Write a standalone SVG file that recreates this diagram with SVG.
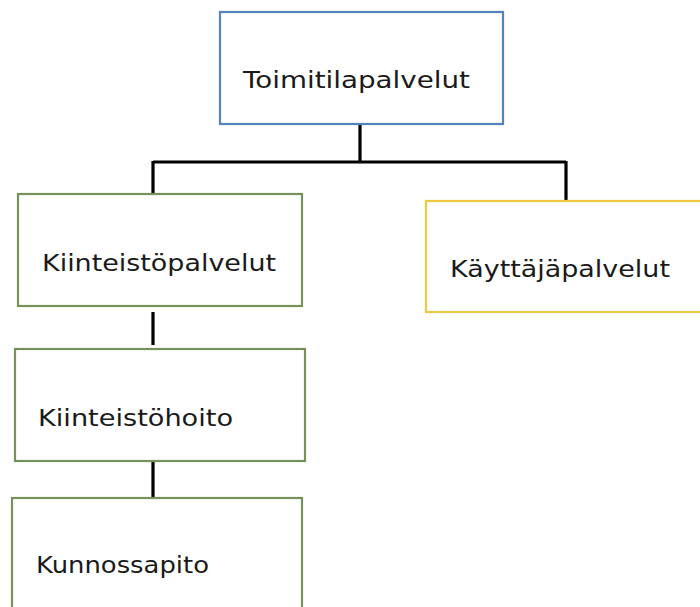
<svg xmlns="http://www.w3.org/2000/svg" width="700" height="607" viewBox="0 0 700 607">
<style>
.box{fill:#fff;stroke-width:2.2}
.blue{stroke:#5283bd}
.green{stroke:#76925a}
.yellow{stroke:#f0c842}
.lbl{font-family:"DejaVu Sans","Liberation Sans",sans-serif;font-size:23px;fill:#1a1a1a}
.conn{stroke:#000;stroke-width:3.2;fill:none}
</style>
<rect width="700" height="607" fill="#fff"/>
<g id="connectors">
<path class="conn" d="M360 124V162M153 162H566M153 161V194M566 161V201M153 312V345M153 462V498"/>
</g>
<g id="toimitilapalvelut">
<rect class="box blue" x="220" y="12" width="283" height="112"/>
<text class="lbl" x="243" y="88" textLength="227" lengthAdjust="spacingAndGlyphs">Toimitilapalvelut</text>
</g>
<g id="kiinteistopalvelut">
<rect class="box green" x="18" y="194" width="284" height="112"/>
<text class="lbl" x="42" y="271" textLength="234" lengthAdjust="spacingAndGlyphs">Kiinteistöpalvelut</text>
</g>
<g id="kayttajapalvelut">
<rect class="box yellow" x="426" y="201" width="276" height="111"/>
<text class="lbl" x="450" y="277" textLength="220" lengthAdjust="spacingAndGlyphs">Käyttäjäpalvelut</text>
</g>
<g id="kiinteistohoito">
<rect class="box green" x="15" y="349" width="290" height="112"/>
<text class="lbl" x="38" y="426" textLength="195" lengthAdjust="spacingAndGlyphs">Kiinteistöhoito</text>
</g>
<g id="kunnossapito">
<rect class="box green" x="12" y="498" width="290" height="115"/>
<text class="lbl" x="36" y="573" textLength="173" lengthAdjust="spacingAndGlyphs">Kunnossapito</text>
</g>
</svg>
